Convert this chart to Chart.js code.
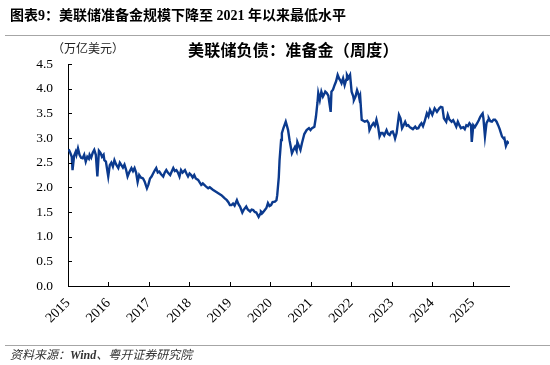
<!DOCTYPE html>
<html>
<head>
<meta charset="utf-8">
<script src="https://cdn.jsdelivr.net/npm/chart.js@4.4.1/dist/chart.umd.min.js"></script>
<style>
  body { margin: 0; background: #fff; }
  #wrap { position: relative; width: 550px; height: 365px; overflow: hidden; }
  #wrap div { position: absolute; white-space: nowrap; }
  .hd { left: 10px; top: 9px; font: bold 14px/14px "Liberation Serif", "Noto Sans CJK SC"; color: #000; }
  .rule { left: 5px; right: 0; height: 0; border-top: 1px solid #a6a6a6; }
  .ttl { left: 188px; top: 40px; font: bold 16px/18px "Noto Sans CJK SC"; color: #000; letter-spacing: 0.2px; }
  .unit { left: 52px; top: 41px; font: 12px/14px "Noto Sans CJK SC"; color: #222; }
  .src { left: 10px; top: 348px; font: italic 12px/14px "Liberation Serif", "Noto Sans CJK SC"; color: #333; }
  canvas { position: absolute; left: 0; top: 0; }
</style>
</head>
<body>
<div id="wrap">
  <canvas id="reserves" width="550" height="365"></canvas>
  <div class="hd">图表9：美联储准备金规模下降至 2021 年以来最低水平</div>
  <div class="rule" style="top:35px"></div>
  <div class="unit">（万亿美元）</div>
  <div class="ttl">美联储负债：准备金（周度）</div>
  <div class="rule" style="top:345px"></div>
  <div class="src">资料来源：<b>Wind</b>、粤开证券研究院</div>
</div>
<script>
// weekly observations (sampled), trillion USD
const dates = [
  '2015-01-07','2015-01-21','2015-02-04','2015-02-11','2015-02-25','2015-03-11','2015-03-18','2015-04-01','2015-04-15','2015-04-29',
  '2015-05-13','2015-05-27','2015-06-10','2015-06-24','2015-07-08','2015-07-15','2015-07-29','2015-08-12','2015-08-26','2015-09-09',
  '2015-09-23','2015-10-07','2015-10-21','2015-11-04','2015-11-18','2015-11-25','2015-12-09','2015-12-30','2016-01-13','2016-01-27',
  '2016-02-10','2016-02-24','2016-03-09','2016-03-30','2016-04-13','2016-04-27','2016-05-11','2016-05-25','2016-06-08','2016-06-22',
  '2016-07-06','2016-07-27','2016-08-10','2016-08-24','2016-09-07','2016-09-21','2016-10-05','2016-10-19','2016-11-09','2016-11-23',
  '2016-12-14','2016-12-28','2017-01-11','2017-01-25','2017-02-08','2017-02-22','2017-03-08','2017-03-22','2017-04-05','2017-04-19',
  '2017-05-10','2017-05-24','2017-06-07','2017-06-21','2017-07-12','2017-07-26','2017-08-09','2017-08-23','2017-09-06','2017-09-20',
  '2017-10-04','2017-10-18','2017-11-01','2017-11-22','2017-12-06','2017-12-20','2018-01-03','2018-01-17','2018-01-31','2018-02-14',
  '2018-02-28','2018-03-21','2018-04-04','2018-04-18','2018-05-02','2018-05-16','2018-05-30','2018-06-20','2018-07-04','2018-08-01',
  '2018-08-22','2018-09-05','2018-09-19','2018-10-03','2018-10-17','2018-10-31','2018-11-14','2018-12-05','2018-12-19','2019-01-02',
  '2019-01-16','2019-01-30','2019-02-13','2019-03-06','2019-03-20','2019-04-03','2019-04-24','2019-05-08','2019-05-29','2019-06-12',
  '2019-07-03','2019-07-17','2019-07-31','2019-08-14','2019-08-28','2019-09-18','2019-10-02','2019-10-09','2019-10-23','2019-11-13',
  '2019-11-27','2019-12-11','2019-12-25','2020-01-08','2020-01-22','2020-02-12','2020-02-26','2020-03-04','2020-03-18','2020-03-25',
  '2020-04-08','2020-04-15','2020-04-29','2020-05-20','2020-06-03','2020-06-10','2020-06-24','2020-07-15','2020-07-29','2020-08-12',
  '2020-08-26','2020-09-02','2020-09-16','2020-09-30','2020-10-14','2020-10-21','2020-11-04','2020-11-25','2020-12-16','2020-12-30',
  '2021-01-13','2021-02-03','2021-02-17','2021-03-03','2021-03-10','2021-03-24','2021-04-07','2021-04-21','2021-05-05','2021-05-12',
  '2021-05-26','2021-06-09','2021-06-30','2021-07-07','2021-07-21','2021-08-04','2021-08-18','2021-09-01','2021-09-15','2021-09-22',
  '2021-10-06','2021-10-20','2021-11-03','2021-11-17','2021-11-24','2021-12-08','2021-12-22','2022-01-05','2022-01-19','2022-01-26',
  '2022-02-09','2022-02-23','2022-03-09','2022-03-16','2022-03-23','2022-04-06','2022-04-20','2022-05-04','2022-05-25','2022-06-08',
  '2022-06-15','2022-06-29','2022-07-20','2022-08-03','2022-08-17','2022-09-01','2022-09-14','2022-09-28','2022-10-12','2022-10-26',
  '2022-11-16','2022-11-30','2022-12-14','2022-12-28','2023-01-11','2023-01-25','2023-02-01','2023-02-15','2023-03-08','2023-03-22',
  '2023-04-05','2023-04-19','2023-05-03','2023-05-17','2023-05-31','2023-06-14','2023-06-28','2023-07-12','2023-08-02','2023-08-16',
  '2023-08-30','2023-09-13','2023-09-27','2023-10-11','2023-10-25','2023-11-15','2023-11-29','2023-12-13','2024-01-03','2024-01-24',
  '2024-02-14','2024-03-06','2024-03-20','2024-04-03','2024-04-17','2024-05-08','2024-05-22','2024-06-05','2024-06-26','2024-07-10',
  '2024-07-24','2024-08-07','2024-08-21','2024-09-04','2024-09-18','2024-10-09','2024-10-23','2024-11-06','2024-11-20','2024-12-04',
  '2024-12-18','2024-12-25','2025-01-08','2025-01-22','2025-02-12','2025-02-26','2025-03-12','2025-03-26','2025-04-02','2025-04-09',
  '2025-04-23','2025-05-07','2025-05-21','2025-05-28','2025-06-11','2025-06-25','2025-07-09','2025-07-23','2025-08-06','2025-08-20',
  '2025-09-03','2025-09-10','2025-09-24','2025-10-08','2025-10-15','2025-10-29','2025-11-12','2025-11-26'
]
const reserves = [
  2.77,2.70,2.62,2.35,2.64,2.72,2.66,2.79,2.66,2.60,
  2.59,2.66,2.52,2.62,2.58,2.66,2.60,2.70,2.76,2.66,
  2.22,2.74,2.70,2.62,2.66,2.55,2.52,2.22,2.45,2.50,
  2.42,2.55,2.47,2.39,2.50,2.45,2.40,2.46,2.36,2.22,
  2.30,2.39,2.33,2.39,2.30,2.11,2.25,2.20,2.18,2.12,
  1.98,2.06,2.18,2.22,2.28,2.34,2.39,2.30,2.32,2.27,
  2.22,2.30,2.35,2.30,2.25,2.32,2.39,2.33,2.35,2.30,
  2.22,2.35,2.30,2.35,2.28,2.22,2.28,2.25,2.20,2.25,
  2.18,2.15,2.10,2.05,2.08,2.05,2.02,1.98,2.00,1.95,
  1.92,1.90,1.88,1.86,1.84,1.81,1.78,1.74,1.70,1.64,
  1.64,1.67,1.63,1.74,1.66,1.61,1.49,1.55,1.61,1.55,
  1.51,1.55,1.54,1.50,1.49,1.40,1.46,1.51,1.48,1.54,
  1.58,1.68,1.62,1.64,1.70,1.71,1.74,1.84,2.20,2.55,
  2.96,3.10,3.20,3.33,3.22,3.16,2.95,2.69,2.76,2.82,
  2.74,2.92,2.84,2.76,2.90,2.96,3.08,3.16,3.20,3.16,
  3.20,3.23,3.43,3.72,3.91,3.77,3.94,3.84,3.90,3.94,
  3.91,3.86,3.53,3.94,3.98,4.07,4.15,4.28,4.20,4.18,
  4.11,4.21,4.07,4.18,4.28,4.22,4.28,3.94,3.85,3.77,
  3.84,3.97,3.88,3.80,3.85,3.37,3.35,3.33,3.35,3.30,
  3.16,3.23,3.30,3.25,3.37,3.23,3.03,3.10,3.10,3.05,
  3.16,3.08,3.06,3.12,3.13,3.05,2.99,3.10,3.47,3.40,
  3.20,3.26,3.33,3.25,3.26,3.22,3.20,3.18,3.23,3.19,
  3.20,3.26,3.30,3.24,3.33,3.50,3.44,3.57,3.47,3.60,
  3.53,3.60,3.63,3.62,3.40,3.33,3.47,3.38,3.33,3.36,
  3.30,3.23,3.33,3.26,3.20,3.22,3.18,3.26,3.24,3.30,
  3.26,2.92,3.26,3.22,3.30,3.36,3.43,3.48,3.50,3.40,
  3.03,3.30,3.36,3.40,3.34,3.33,3.37,3.37,3.33,3.26,
  3.18,3.13,3.03,2.99,3.00,2.84,2.92,2.89
]
const yearTicks = [2015, 2016, 2017, 2018, 2019, 2020, 2021, 2022, 2023, 2024, 2025]

// date string -> fractional year for the linear x axis
function toYear(s) {
  const [y, m, d] = s.split('-').map(Number)
  const start = Date.UTC(y, 0, 1), end = Date.UTC(y + 1, 0, 1)
  return y + (Date.UTC(y, m - 1, d) - start) / (end - start)
}

const points = dates.map((d, i) => ({ x: toYear(d), y: reserves[i] }))
const lastX = points[points.length - 1].x

// ticks in the reference point inward, draw them by hand
const innerTicks = {
  id: 'innerTicks',
  afterDraw(chart) {
    const ctx = chart.ctx, a = chart.chartArea
    const xs = chart.scales.x, ys = chart.scales.y
    ctx.save()
    ctx.strokeStyle = '#000'
    ctx.lineWidth = 1
    ctx.beginPath()
    ys.ticks.forEach(t => {
      const py = Math.round(ys.getPixelForValue(t.value)) + 0.5
      ctx.moveTo(a.left, py); ctx.lineTo(a.left + 4, py)
    })
    yearTicks.forEach(v => {
      const px = Math.round(xs.getPixelForValue(v)) + 0.5
      ctx.moveTo(px, a.bottom); ctx.lineTo(px, a.bottom - 4)
    })
    ctx.stroke()
    ctx.restore()
  }
}

const serif = '"Liberation Serif", "Times New Roman", serif'

new Chart(document.getElementById('reserves'), {
  type: 'line',
  data: {
    datasets: [{
      data: points,
      borderColor: '#0b3a8e',
      borderWidth: 2.4,
      pointRadius: 0,
      tension: 0,
      fill: false
    }]
  },
  options: {
    responsive: false,
    animation: false,
    layout: { padding: { top: 64, right: 41, bottom: 29, left: 0 } },
    plugins: { legend: { display: false }, tooltip: { enabled: false } },
    scales: {
      x: {
        type: 'linear',
        min: 2015,
        max: lastX,
        afterFit: s => { s.height = 50 },
        afterBuildTicks: s => { s.ticks = yearTicks.map(v => ({ value: v })) },
        grid: { display: false, drawTicks: false },
        border: { display: true, color: '#000', width: 1 },
        ticks: {
          color: '#000',
          font: { family: serif, size: 14 },
          minRotation: 45,
          maxRotation: 45,
          padding: 9,
          autoSkip: false,
          callback: v => String(v)
        }
      },
      y: {
        min: 0,
        max: 4.5,
        afterFit: s => { s.width = 68 },
        grid: { display: false, drawTicks: false },
        border: { display: true, color: '#000', width: 1 },
        ticks: {
          stepSize: 0.5,
          color: '#000',
          font: { family: serif, size: 13.5 },
          padding: 15,
          callback: v => v.toFixed(1)
        }
      }
    }
  },
  plugins: [innerTicks]
})
</script>
</body>
</html>
